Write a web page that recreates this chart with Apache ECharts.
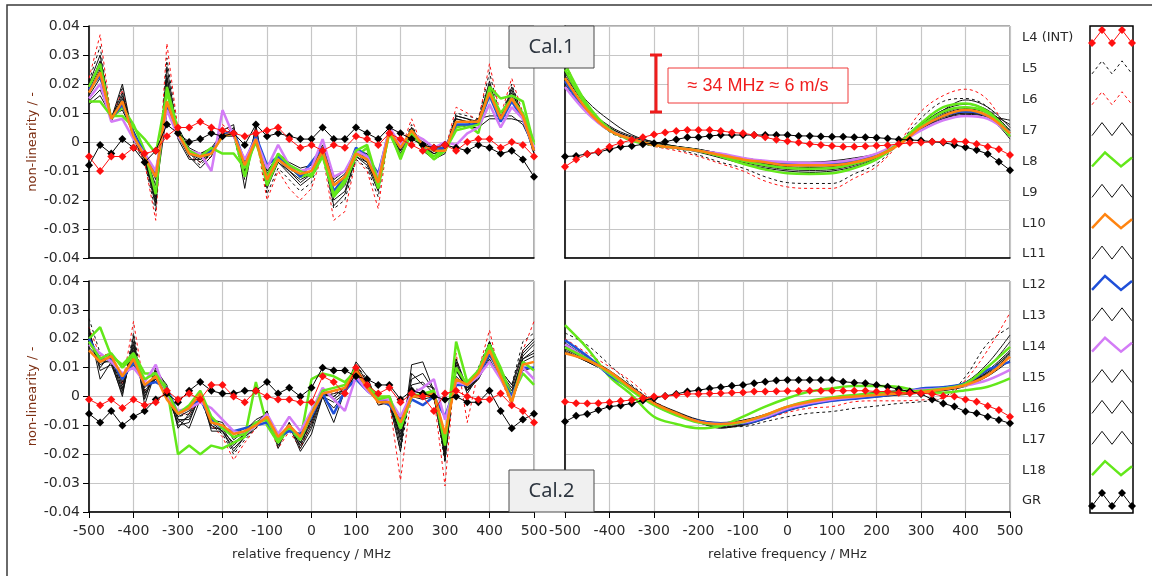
<!DOCTYPE html>
<html>
<head>
<meta charset="utf-8">
<script src="https://cdn.jsdelivr.net/npm/echarts@6/dist/echarts.min.js"></script>
<style>
  html, body { margin: 0; padding: 0; background: #ffffff; }
  #chart { width: 1152px; height: 576px; }
</style>
</head>
<body>
<div id="chart"></div>
<script>
// Legend order of the measured channels
const seriesNames = ['L4 (INT)', 'L5', 'L6', 'L7', 'L8', 'L9', 'L10', 'L11', 'L12', 'L13', 'L14', 'L15', 'L16', 'L17', 'L18', 'GR'];

// Relative frequency grid (MHz): 25 MHz steps for the sampled curves, 50 MHz for the fitted ones
const freqFine = [-500, -475, -450, -425, -400, -375, -350, -325, -300, -275, -250, -225, -200, -175, -150, -125, -100, -75, -50, -25,
  0, 25, 50, 75, 100, 125, 150, 175, 200, 225, 250, 275, 300, 325, 350, 375, 400, 425, 450, 475, 500];
const freqCoarse = [-500, -450, -400, -350, -300, -250, -200, -150, -100, -50, 0, 50, 100, 150, 200, 250, 300, 350, 400, 450, 500];

// Non-linearity values, in units of 1e-3 (one row per channel, legend order)
// Cal.1, measured
const cal1Left = [
  [-5, -10, -5, -5, -2, -4, -3, 2, 5, 5, 7, 5, 4, 3, 2, 3, 4, 5, 1, -2, -1, -3, -1, -2, 2, 1, -1, 3, 1, -1, -3, -2, -1, -3, 0, 1, 1, -2, 0, -1, -5],
  [21, 33, 7, 19, 0, -7, -24, 29, 3, -5, -8, -4, 3, 2, -13, 4, -18, -9, -13, -17, -14, -3, -23, -20, -6, -9, -19, 5, -3, 6, -2, -5, -3, 10, 9, 8, 24, 8, 20, 9, -4],
  [22, 37, 8, 18, 1, -7, -27, 34, 4, -5, -7, -5, 6, 3, -12, 2, -20, -10, -16, -20, -16, -4, -27, -24, -6, -10, -23, 5, -3, 8, -2, -5, -3, 12, 10, 7, 27, 9, 22, 10, -5],
  [20, 30, 8, 20, 1, -6, -22, 26, 2, -5, -9, -5, 4, 6, -16, 6, -16, -7, -11, -15, -12, -3, -22, -18, -5, -8, -17, 5, -5, 5, -3, -6, -4, 9, 8, 7, 21, 7, 19, 9, -4],
  [19, 27, 8, 12, 6, -3, -18, 19, 4, -4, -5, -4, 2, 3, -12, 2, -15, -6, -8, -12, -11, -3, -19, -14, -5, -2, -16, 4, -6, 4, -2, -5, -2, 5, 6, 3, 19, 15, 16, 14, -1],
  [13, 16, 9, 11, 3, -3, -17, 10, 5, -2, -4, -2, 3, 3, -6, 2, -11, -4, -7, -9, -8, -1, -13, -10, -3, -4, -12, 3, -1, 3, 0, -2, -2, 6, 5, 5, 8, 8, 8, 7, -2],
  [17, 24, 8, 14, 2, -5, -12, 14, 3, -4, -5, -4, 2, 3, -8, 1, -13, -6, -9, -11, -10, -3, -15, -12, -4, -6, -14, 4, -2, 4, -1, -3, -3, 7, 7, 7, 17, 8, 15, 9, -3],
  [18, 26, 7, 16, 2, -5, -20, 22, 1, -6, -6, -4, 2, 4, -10, 3, -14, -7, -10, -13, -11, -2, -19, -15, -4, -7, -16, 4, -3, 5, -1, -4, -3, 8, 7, 7, 19, 8, 17, 9, -3],
  [18, 23, 8, 13, 3, -4, -11, 12, 3, -4, -5, -3, 2, 4, -7, 2, -8, -5, -8, -12, -7, -2, -17, -12, -2, -5, -11, 4, -2, 3, -1, -3, -2, 6, 6, 6, 16, 7, 14, 8, -3],
  [16, 22, 9, 14, 4, -4, -15, 17, 4, -3, -5, -3, 3, 3, -9, 2, -13, -6, -9, -12, -10, -2, -17, -13, -3, -6, -14, 4, -2, 4, -1, -3, -2, 7, 7, 6, 16, 7, 15, 8, -3],
  [15, 20, 7, 8, 1, -4, -10, 11, 2, -3, -4, -10, 11, 2, -6, 1, -9, -1, -8, -10, -9, 1, -12, -10, -3, -5, -12, 5, -1, 3, 1, -2, 0, -1, 3, 5, 13, 5, 12, 8, -2],
  [19, 28, 8, 17, 1, -6, -19, 23, 2, -4, -7, -4, 2, 5, -12, 5, -15, -6, -10, -14, -11, -3, -20, -17, -5, -7, -15, 5, -4, 4, -2, -4, -3, 9, 8, 6, 20, 8, 18, 8, -4],
  [14, 18, 9, 12, 3, -4, -13, 12, 3, -3, -4, -3, 2, 2, -7, 1, -10, -5, -8, -10, -9, -2, -14, -11, -4, -5, -13, 3, -2, 3, -1, -3, -2, 6, 6, 8, 9, 9, 9, 6, -2],
  [17, 25, 8, 15, 2, -5, -21, 20, 3, -4, -6, -4, 3, 3, -11, 3, -13, -6, -9, -12, -10, -3, -18, -14, -4, -6, -15, 4, -3, 4, -2, -4, -3, 8, 7, 7, 18, 7, 16, 8, -3],
  [14, 14, 9, 9, 5, 1, -4, 17, 3, -3, -5, -2, -4, -4, -9, 0, -12, -4, -8, -10, -12, -5, -18, -13, -3, -1, -14, 3, -5, 3, -2, -6, -3, 4, 5, 6, 18, 10, 15, 10, 0],
  [-8, -1, -4, 1, -2, -7, -3, 6, 3, 0, 1, 3, 2, 3, -1, 6, 2, 3, 2, 1, 1, 5, 1, 1, 5, 3, 1, 5, 3, 1, -1, -2, -1, -2, -3, -1, -2, -4, -3, -6, -12]
];

// Cal.1, fitted
const cal1Right = [
  [-8.5, -6, -4.1, -3.3, -1.6, -0.3, 0.7, 1.6, 2.6, 3.3, 3.8, 4.1, 4.1, 4.1, 3.8, 3.3, 3, 2.4, 1.6, 0.8, 0.3, -0.2, -0.7, -1, -1.4, -1.6, -1.6, -1.5, -1.3, -1.1, -0.7, -0.3, -0.2, 0.1, 0.1, 0.2, 0.1, -0.7, -1.6, -2.5, -4.5],
  [26, 11.5, 3.5, 0.5, -1.5, -2.5, -4.5, -7, -9, -12, -14, -14.3, -14.3, -11, -7.5, -0.5, 8.2, 14, 15, 12, 2],
  [28, 12, 4, 0.5, -1.5, -3, -5, -7.5, -10, -13.5, -15.5, -16, -16, -12.5, -8.5, -0.5, 10.5, 16, 18.2, 14.5, 2],
  [24, 14, 7.5, 2.5, 0, -1.5, -2.5, -4, -5.5, -6.5, -7, -7, -6.5, -5.5, -4, -0.5, 4, 8, 10, 9, 7.5],
  [27, 13, 4.5, 0.5, -1, -2, -3, -5, -7.5, -9.5, -10.8, -11, -10.8, -9, -6, -0.5, 6.5, 12, 13.3, 10.5, 3],
  [23, 12, 5, 1.5, -0.5, -2, -3.5, -5.5, -7.5, -9, -10, -10.5, -10, -8.5, -5.5, -0.5, 6, 11, 13, 11, 4],
  [22, 11, 4, 1, -1, -2, -3, -4.5, -6, -7, -8, -8, -8, -7, -5, -1, 5, 9, 11, 9, 3],
  [22, 11, 4.5, 1, -1, -2, -3, -4.5, -6, -7.5, -8, -8.3, -8, -7, -4.8, -0.5, 5.5, 10, 12, 10, 2],
  [21, 10.5, 4, 1, -1, -2, -3, -4.5, -6, -7, -7.5, -7.8, -7.5, -6.5, -4.5, -0.5, 5, 9, 10.5, 9, 3],
  [21, 10.5, 4, 1.5, -0.5, -1.5, -2.5, -4, -5.5, -6.5, -7, -7, -6.8, -6, -4, -0.5, 4.5, 8.5, 10, 9, 4],
  [19, 10, 4, 1, -1, -2, -3, -4, -5.5, -6.5, -7, -7.2, -7, -6, -4, -0.5, 4, 7.5, 9, 8, 3],
  [24, 12, 5.5, 2, 0, -1.5, -3, -5, -7, -8.5, -9.5, -9.8, -9.5, -8, -5.2, -0.5, 6, 11, 14.5, 12, 5],
  [20, 10, 4, 1, -1, -2, -3, -4.3, -5.8, -6.8, -7.3, -7.5, -7.2, -6.2, -4.2, -0.5, 4.5, 8, 9.5, 8.5, 1],
  [22, 11, 5, 1.5, -0.5, -1.8, -3, -4.6, -6.3, -7.6, -8.5, -8.8, -8.5, -7.3, -5, -0.5, 5, 9.5, 11.5, 10, 6],
  [25, 12, 4, 1, -1, -2, -3, -4.8, -6.5, -8, -9, -9.2, -9, -7.5, -5, -0.5, 5.5, 10.5, 12, 10, 2],
  [-5, -4.8, -4.1, -3.5, -2.5, -1.6, -1.4, -0.8, -0.4, 0.1, 0.9, 1.6, 1.6, 2.1, 2.4, 2.4, 2.4, 2.4, 2.4, 2.4, 2.4, 2.1, 2.1, 1.9, 1.8, 1.8, 1.6, 1.6, 1.5, 1.2, 0.9, 0.7, 0.5, 0.1, -0.2, -1, -1.8, -2.8, -4.1, -6.8, -9.7]
];

// Cal.2, measured
const cal2Left = [
  [-1, -3, -1, -4, -1, -3, -2, 2, -1, 1, -1, 4, 4, 0, -2, 2, 0, -1, -1, -2, -2, 7, 5, 1, 10, 4, 1, 3, -2, 1, 0, -5, 1, 2, 0, -1, -1, 1, -3, -5, -9],
  [27, 15, 13, 2, 22, 1, 9, 1, -7, -6, -1, -10, -13, -20, -15, -11, -6, -17, -11, -17, -8, 1, 0, 2, 11, 6, -2, -2, -19, 3, 2, 1, -23, 13, 2, 10, 19, 9, 4, 19, 22],
  [24, 14, 15, 4, 26, 2, 8, 0, -6, -6, 0, -10, -14, -22, -16, -11, -8, -18, -12, -18, -9, 2, 1, 3, 11, 5, -3, -2, -29, 1, 0, 0, -31, 15, -9, 9, 23, 6, -3, 16, 26],
  [24, 6, 12, 0, 21, -3, 9, 4, -11, -6, 2, -12, -12, -19, -14, -11, -5, -17, -10, -19, -13, 0, -9, 2, 12, 7, -3, -2, -19, 11, 12, 2, -22, 13, 3, 8, 19, 9, 4, 16, 20],
  [20, 24, 14, 11, 15, 8, 8, 3, -20, -17, -20, -17, -18, -16, -14, 5, -10, -16, -11, -15, 6, 8, 7, 5, 9, 4, 0, 0, -11, 1, 0, 2, -17, 19, 5, 9, 18, 10, 0, 8, 4],
  [21, 10, 15, 5, 16, 2, 6, 2, -8, -11, -1, -8, -9, -15, -12, -8, -6, -16, -9, -16, -8, 0, -4, 1, 8, 4, -1, -2, -14, 6, 8, 2, -18, 9, 2, 6, 14, 8, 2, 13, 16],
  [16, 12, 14, 7, 13, 4, 7, -1, -6, -4, 1, -9, -10, -13, -12, -10, -7, -14, -10, -14, -6, 1, 2, 3, 9, 3, -2, -2, -9, 0, 0, 1, -13, 6, 4, 8, 16, 7, -2, 11, 12],
  [22, 11, 13, 3, 19, 0, 8, 0, -9, -7, 0, -11, -11, -17, -13, -9, -7, -16, -10, -17, -10, 1, 0, 3, 10, 3, -2, -1, -15, 2, 1, 0, -20, 11, 1, 7, 18, 7, 0, 14, 18],
  [20, 13, 13, 6, 12, 4, 5, 3, -6, -4, -1, -8, -11, -12, -11, -10, -9, -14, -12, -13, -7, 1, -6, 2, 6, 2, -1, -3, -8, -1, -3, 0, -7, 4, 4, 7, 15, 7, 0, 10, 10],
  [19, 12, 14, 4, 14, 3, 7, 1, -7, -5, 1, -9, -10, -14, -12, -10, -7, -15, -10, -15, -7, 1, 2, 3, 9, 3, -2, -2, -12, 1, 0, 1, -16, 9, 3, 8, 16, 7, -1, 12, 14],
  [18, 15, 12, 8, 10, 5, 11, 0, -5, -4, -2, -4, -8, -12, -13, -10, -6, -13, -7, -12, -5, 3, -1, -5, 7, 2, -1, -1, -7, 1, 3, 6, -8, 5, 4, 7, 12, 6, -1, 10, 6],
  [23, 9, 11, 1, 18, -1, 10, 3, -10, -9, 1, -10, -12, -18, -14, -10, -5, -18, -9, -18, -11, 0, -2, 1, 11, 5, -2, -1, -17, 8, 4, 3, -21, 12, 2, 8, 19, 8, 3, 15, 19],
  [17, 13, 13, 6, 11, 4, 6, 0, -6, -4, 1, -8, -10, -13, -11, -9, -8, -14, -11, -14, -6, 0, 1, 2, 8, 2, -2, -3, -10, 0, -1, 0, -14, 7, 3, 6, 13, 6, -2, 9, 10],
  [21, 12, 12, 2, 17, 1, 7, 2, -8, -8, 0, -9, -12, -16, -13, -9, -6, -15, -10, -16, -9, 2, -1, 2, 10, 4, -1, -2, -13, 4, 5, 1, -19, 10, 2, 7, 17, 8, 1, 13, 15],
  [19, 13, 15, 10, 14, 6, 8, 2, -6, -3, 2, -7, -11, -14, -13, -9, -8, -15, -10, -15, -6, 2, 3, 4, 10, 3, -1, 0, -11, 0, 1, 2, -15, 10, 4, 9, 17, 8, -2, 12, 9],
  [-6, -9, -5, -10, -7, -5, -1, 1, -2, 2, 5, 2, 1, 1, 2, 2, 5, 1, 3, 0, 3, 10, 9, 9, 7, 6, 4, 4, -1, 2, 1, 0, -1, 0, -2, -2, 2, -5, -11, -8, -6]
];

// Cal.2, fitted
const cal2Right = [
  [-1.8, -2.3, -2.4, -2.3, -2, -1.6, -1.2, -0.6, 0, 0.1, 0.5, 0.9, 0.9, 1, 1.1, 1.3, 1.4, 1.7, 1.7, 1.8, 1.9, 1.9, 2, 2, 2, 2, 2, 2, 1.7, 1.7, 1.3, 1.1, 1.1, 0.9, 0.2, 0, -1, -1.8, -3.3, -4.7, -7],
  [22, 17.8, 11, 4, -2, -6, -9, -10.5, -10.4, -8.7, -7, -5.8, -5.2, -4.1, -3.3, -2.4, -1.8, -0.5, 6.9, 18.4, 24],
  [20, 15, 10.3, 5.1, -1.5, -5.5, -8.8, -10, -9.5, -7.8, -5.5, -4, -3.5, -1.8, -1.5, -1.5, -1.2, -0.5, 5.7, 16.1, 29],
  [17, 13.5, 9, 3.5, -2, -5.5, -8.5, -11, -9.5, -7, -4, -2, -0.5, 0.5, 1.5, 2, 2.5, 3.2, 5, 11.5, 21.3],
  [24.7, 16.7, 6.9, 0.5, -7, -9.5, -11, -10.2, -7, -3.5, -0.6, 1.7, 2.8, 3.6, 3.6, 3.3, 1.7, 1.3, 2.2, 3.4, 6.3],
  [16.5, 12.5, 8.5, 3, -2.5, -6, -9, -10.5, -9.8, -7.5, -4.5, -2.5, -1.2, -0.4, 0.3, 1, 2, 3, 4.5, 9, 16],
  [15, 12.6, 8.6, 2.8, -2.4, -5.8, -8.7, -9.5, -8.7, -6.4, -3.5, -1.8, -0.6, 0, 0.5, 1, 1.5, 2.5, 4, 7.4, 13.8],
  [17.5, 13, 8.8, 3.2, -2.2, -5.8, -8.8, -10, -9.2, -7, -4.2, -2.2, -0.8, 0, 0.8, 1.4, 2, 2.8, 4.2, 8, 14.5],
  [19.5, 14, 7.4, 2.5, -2.8, -6.2, -8.5, -9.3, -9.3, -7.5, -4.7, -2.8, -1.5, -0.8, 0, 1, 2.8, 3.2, 4.6, 9.2, 12],
  [16, 12, 8, 2.6, -2.6, -6, -9, -10.8, -10, -7.8, -5, -3, -1.6, -0.8, -0.2, 0.5, 1.2, 2.5, 4.8, 10, 19],
  [18, 13, 8, 2.8, -2.5, -6, -8.8, -9.6, -9, -7, -4.2, -2.3, -1, -0.3, 0.6, 1.3, 2.3, 2.8, 3.8, 5.7, 9.2],
  [18.5, 13.5, 8.4, 3, -2.2, -5.5, -8.2, -9, -8.2, -6.2, -3.8, -2, -0.8, 0.2, 1, 1.8, 2.4, 3.3, 4.5, 8.5, 15],
  [15.5, 12, 8.2, 3.3, -1.8, -5.2, -8, -9.2, -8.6, -6.6, -4, -2.2, -1, -0.2, 0.4, 0.8, 1.2, 2, 3.5, 7, 12.5],
  [17, 13, 8.6, 3, -2.4, -5.9, -8.7, -9.8, -9, -6.9, -4.1, -2.3, -1, -0.1, 0.6, 1.2, 1.8, 2.6, 4.2, 8.4, 15.5],
  [17, 13, 8, 2, -3, -6.5, -9, -9.8, -8.8, -6.5, -3.5, -1.5, -0.3, 0.5, 1, 1.5, 2, 2.8, 4.5, 10.3, 17.2],
  [-8.7, -6.7, -6.1, -4.7, -3.5, -3.1, -2.4, -1.4, -0.6, 0.2, 0.9, 1.7, 2.2, 2.8, 3.2, 3.7, 4, 4.6, 5.1, 5.5, 5.7, 5.7, 5.7, 5.7, 5.7, 5.1, 4.8, 4.6, 4, 3.4, 2.5, 1.7, 0.9, -1, -2.4, -3.5, -5.2, -5.8, -7, -8.1, -9.3]
];

// Line styles per channel (z sets the stacking: thin traces, then coloured, orange on top, then marked traces)
const GREEN = '#63e81a', ORANGE = '#ff8410', BLUE = '#1f4fd8', VIOLET = '#d37cf6', RED = '#ff1010', BLACK = '#111111';
const styleOf = {
  'L4 (INT)': { kind: 'marker', color: RED, z: 6 },
  'L5': { kind: 'thin', color: BLACK, dash: [3, 3], z: 2 },
  'L6': { kind: 'thin', color: RED, dash: [3, 3], z: 2 },
  'L7': { kind: 'thin', color: BLACK, z: 2 },
  'L8': { kind: 'thick', color: GREEN, z: 3 },
  'L9': { kind: 'thin', color: BLACK, z: 2 },
  'L10': { kind: 'thick', color: ORANGE, z: 4 },
  'L11': { kind: 'thin', color: BLACK, z: 2 },
  'L12': { kind: 'thick', color: BLUE, z: 3 },
  'L13': { kind: 'thin', color: BLACK, z: 2 },
  'L14': { kind: 'thick', color: VIOLET, z: 3 },
  'L15': { kind: 'thin', color: BLACK, z: 2 },
  'L16': { kind: 'thin', color: BLACK, z: 2 },
  'L17': { kind: 'thin', color: BLACK, z: 2 },
  'L18': { kind: 'thick', color: GREEN, z: 3 },
  'GR': { kind: 'marker', color: '#000000', z: 5 }
};

const FONT = 'DejaVu Sans';
const chart = echarts.init(document.getElementById('chart'), null, { renderer: 'canvas' });

const gridBoxes = [
  { left: 89, top: 26, width: 445, height: 232 },
  { left: 565, top: 26, width: 445, height: 232 },
  { left: 89, top: 281, width: 445, height: 231 },
  { left: 565, top: 281, width: 445, height: 231 }
];
const panels = [
  { values: cal1Left, fitted: false, bottom: false, leftSide: true },
  { values: cal1Right, fitted: true, bottom: false, leftSide: false },
  { values: cal2Left, fitted: false, bottom: true, leftSide: true },
  { values: cal2Right, fitted: true, bottom: true, leftSide: false }
];

const grids = gridBoxes.map(b => Object.assign({
  show: true, borderColor: '#5a5a5a', borderWidth: 1, backgroundColor: '#ffffff',
  containLabel: false, outerBoundsMode: 'none'
}, b));

const splitStyle = { show: true, lineStyle: { color: '#c6c6c6', width: 1.2 } };

const xAxes = panels.map((p, g) => ({
  type: 'value', gridIndex: g, min: -500, max: 500, interval: 100,
  axisLine: { show: true, onZero: false, lineStyle: { color: '#000', width: 1.5 } },
  axisTick: { show: p.bottom, inside: false, length: 6, lineStyle: { color: '#000' } },
  axisLabel: { show: p.bottom, margin: 12, color: '#2a2a2a', fontSize: 14, fontFamily: FONT,
    showMinLabel: true, showMaxLabel: true },
  splitLine: splitStyle,
  name: p.bottom ? 'relative frequency / MHz' : '',
  nameLocation: 'middle', nameGap: 36,
  nameTextStyle: { color: '#2a2a2a', fontSize: 13, fontFamily: FONT }
}));

const yAxes = panels.map((p, g) => ({
  type: 'value', gridIndex: g, min: -0.04, max: 0.04, interval: 0.01,
  axisLine: { show: true, onZero: false, lineStyle: { color: '#000', width: 1.5 } },
  axisTick: { show: p.leftSide, inside: false, length: 6, lineStyle: { color: '#000' } },
  axisLabel: { show: p.leftSide, margin: 9, color: '#2a2a2a', fontSize: 14, fontFamily: FONT,
    formatter: v => (Math.abs(v) < 1e-9 ? '0' : v.toFixed(2)) },
  splitLine: splitStyle,
  name: p.leftSide ? 'non-linearity / -' : '',
  nameLocation: 'middle', nameGap: 50, nameRotate: 90,
  nameTextStyle: { color: '#7c2e12', fontSize: 13, fontFamily: FONT }
}));

const series = [];
panels.forEach((p, g) => {
  p.values.forEach((row, k) => {
    const name = seriesNames[k];
    const st = styleOf[name];
    const xs = row.length === freqFine.length ? freqFine : freqCoarse;
    const marker = st.kind === 'marker';
    series.push({
      type: 'line', name: name, xAxisIndex: g, yAxisIndex: g,
      data: row.map((v, i) => [xs[i], v / 1000]),
      smooth: p.fitted && !marker ? 0.35 : false,
      showSymbol: marker, symbol: 'diamond', symbolSize: 8,
      itemStyle: { color: st.color },
      lineStyle: {
        color: st.color,
        width: st.kind === 'thick' ? 2.5 : 1,
        type: st.dash ? st.dash : 'solid'
      },
      z: st.z,
      silent: true, animation: false
    });
  });
});

// Outer frame
const graphics = [];
graphics.push({ type: 'rect', shape: { x: 7, y: 5, width: 1170, height: 590 },
  style: { fill: 'none', stroke: '#3a3a3a', lineWidth: 1.5 }, silent: true, z: 50 });

// Legend column: names, framed icon strip
const legendTop = 38, legendStep = 30.87;
graphics.push({ type: 'rect', shape: { x: 1090, y: 26, width: 43, height: 487 },
  style: { fill: '#ffffff', stroke: '#000', lineWidth: 1.5 }, z: 60 });
seriesNames.forEach((name, k) => {
  const y = legendTop + legendStep * k;
  const st = styleOf[name];
  graphics.push({ type: 'text', x: 1022, y: y,
    style: { text: name, fill: '#2a2a2a', font: '13px "DejaVu Sans"', textAlign: 'left', textVerticalAlign: 'middle' }, z: 60 });
  let pts;
  if (st.kind === 'thick') {
    pts = [[1092, y + 5], [1105, y - 9], [1121, y + 5], [1132, y - 4]];
  } else {
    pts = [[1092, y + 5], [1102, y - 8], [1112, y + 5], [1122, y - 8], [1132, y + 5]];
  }
  graphics.push({ type: 'polyline', shape: { points: pts },
    style: { stroke: st.color, lineWidth: st.kind === 'thick' ? 2.5 : 1, fill: 'none',
      lineDash: st.dash ? st.dash : null }, z: 61 });
  if (st.kind === 'marker') {
    pts.forEach(pt => {
      graphics.push({ type: 'polygon', shape: { points: [[pt[0], pt[1] - 4], [pt[0] + 4, pt[1]], [pt[0], pt[1] + 4], [pt[0] - 4, pt[1]]] },
        style: { fill: st.color }, z: 62 });
    });
  }
});

// Calibration tags
[['Cal.1', 26], ['Cal.2', 470]].forEach(([label, top]) => {
  graphics.push({ type: 'rect', shape: { x: 509, y: top, width: 85, height: 42 },
    style: { fill: '#f0f0f0', stroke: '#4a4a4a', lineWidth: 1 }, z: 70 });
  graphics.push({ type: 'text', x: 551.5, y: top + 21,
    style: { text: label, fill: '#2e3640', font: '20px "Noto Sans"', textAlign: 'center', textVerticalAlign: 'middle' }, z: 71 });
});

// Scale bar annotation
const barColor = '#ee1c1c';
graphics.push({ type: 'line', shape: { x1: 656, y1: 55, x2: 656, y2: 112 }, style: { stroke: barColor, lineWidth: 3 }, z: 70 });
graphics.push({ type: 'line', shape: { x1: 650, y1: 55, x2: 662, y2: 55 }, style: { stroke: barColor, lineWidth: 3 }, z: 70 });
graphics.push({ type: 'line', shape: { x1: 650, y1: 112, x2: 662, y2: 112 }, style: { stroke: barColor, lineWidth: 3 }, z: 70 });
graphics.push({ type: 'rect', shape: { x: 668, y: 68, width: 180, height: 35 },
  style: { fill: '#ffffff', stroke: '#f03a3a', lineWidth: 1 }, z: 70 });
graphics.push({ type: 'text', x: 758, y: 86,
  style: { text: '\u2248 34 MHz \u2248 6 m/s', fill: '#f01e1e', font: '18px "Liberation Sans"', textAlign: 'center', textVerticalAlign: 'middle' }, z: 71 });

chart.setOption({
  animation: false,
  backgroundColor: '#ffffff',
  textStyle: { fontFamily: FONT },
  grid: grids,
  xAxis: xAxes,
  yAxis: yAxes,
  series: series,
  graphic: graphics
});
</script>
</body>
</html>
